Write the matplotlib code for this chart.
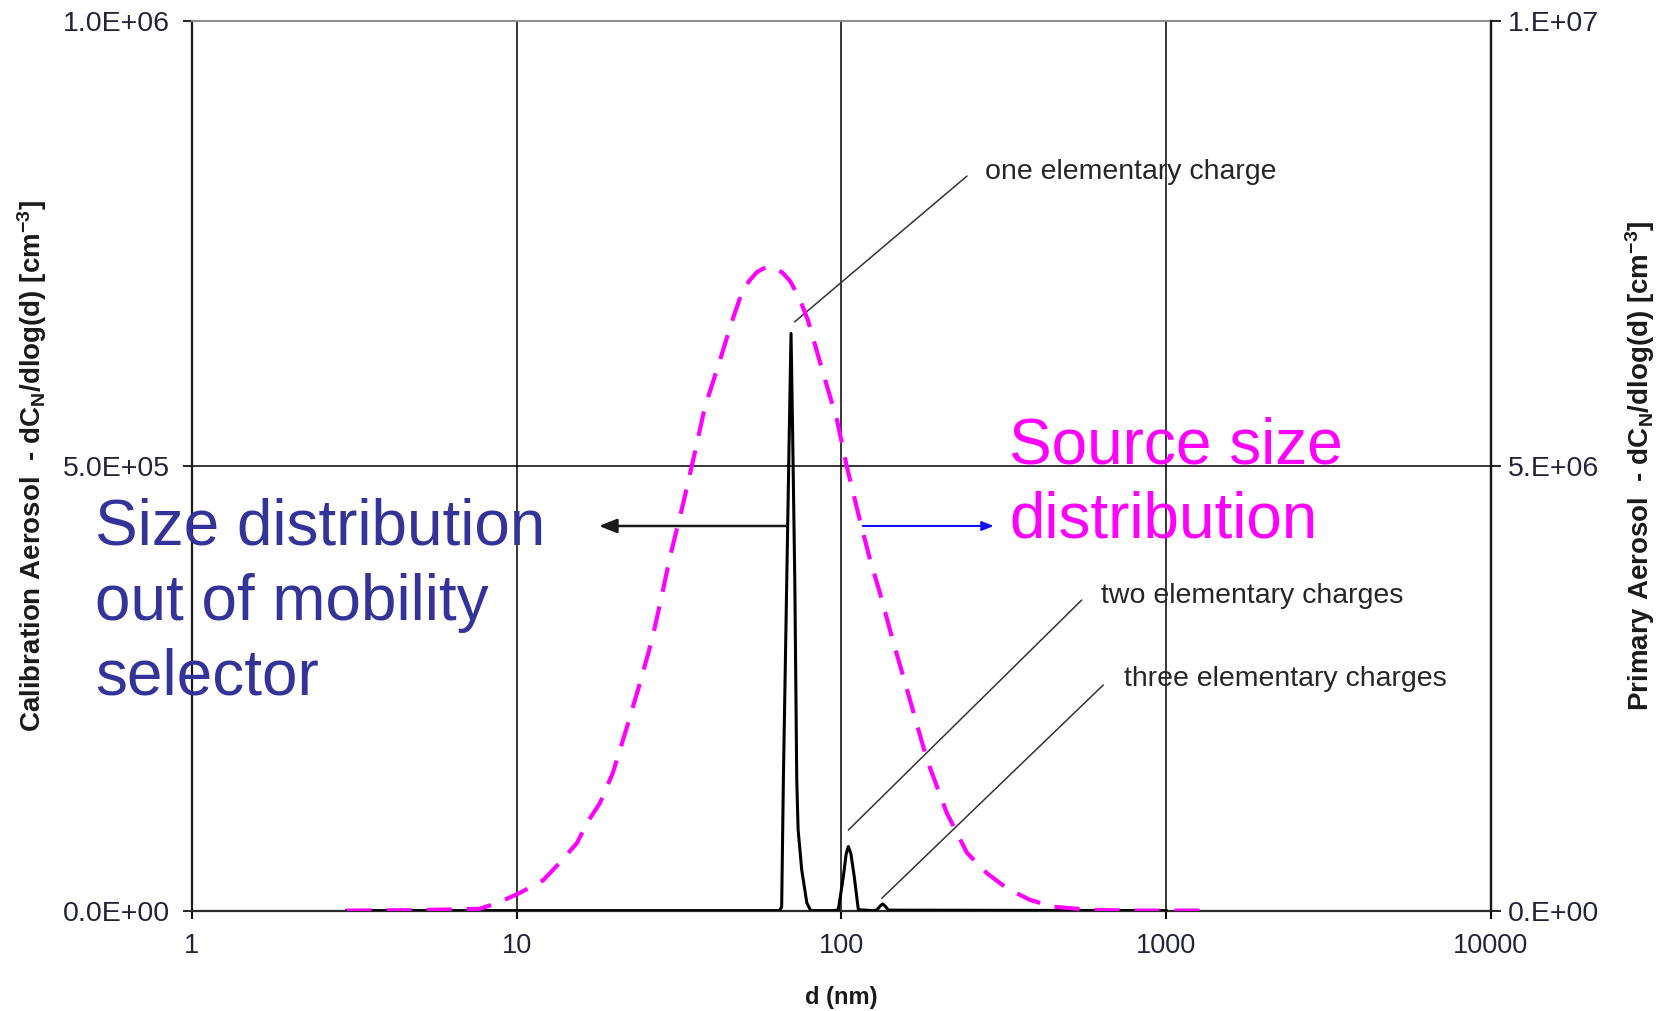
import matplotlib
matplotlib.use("Agg")
import matplotlib.pyplot as plt
from matplotlib.ticker import FixedLocator, NullLocator

plt.rcParams['font.family'] = ['Liberation Sans', 'DejaVu Sans']
plt.rcParams['mathtext.fontset'] = 'custom'
plt.rcParams['mathtext.rm'] = 'Liberation Sans'
plt.rcParams['mathtext.bf'] = 'Liberation Sans:bold'
plt.rcParams['mathtext.it'] = 'Liberation Sans:italic'

# ---- data -------------------------------------------------------------
# Primary (source) aerosol size distribution, right axis [cm^-3]
src_d = [3.0, 5.0, 7.7, 8.8, 10.25, 12.07, 13.6, 15.35, 16.5, 18.07, 19.8,
         21.9, 24.0, 26.1, 27.7, 29.7, 32.6, 35.4, 38.0, 42.3, 46.0, 49.4,
         52.0, 55.0, 57.5, 60.3, 63.0, 66.0, 69.5, 74.0, 78.9, 87.8, 96.9,
         104.0, 114.0, 122.5, 131.5, 144.0, 162.6, 183.4, 211.0, 243.6,
         280.7, 323.6, 381.0, 449.0, 583.0, 800.0, 1394.0]
src_v = [0.0, 5e3, 2e4, 9e4, 2.0e5, 3.4e5, 5.4e5, 7.6e5, 9.9e5, 1.21e6,
         1.55e6, 2.07e6, 2.56e6, 3.04e6, 3.46e6, 3.98e6, 4.58e6, 5.15e6,
         5.66e6, 6.19e6, 6.62e6, 6.95e6, 7.08e6, 7.18e6, 7.22e6, 7.24e6,
         7.22e6, 7.17e6, 7.08e6, 6.90e6, 6.64e6, 6.05e6, 5.52e6, 4.99e6,
         4.39e6, 3.95e6, 3.57e6, 3.04e6, 2.37e6, 1.70e6, 1.10e6, 6.5e5,
         4.2e5, 2.5e5, 1.2e5, 4.4e4, 8e3, 0.0, 0.0]

# Calibration aerosol leaving the mobility selector, left axis [cm^-3]
cal_d = [3.0, 60.0, 64.5, 65.5, 66.3, 67.9, 69.0, 70.0, 70.8, 71.9, 72.9,
         73.6, 75.5, 78.3, 80.5, 95.0, 97.9, 101.4, 103.5, 105.1, 107.0,
         109.6, 112.8, 125.0, 128.5, 131.5, 134.0, 136.5, 139.6, 1000.0]
cal_v = [0.0, 0.0, 0.0, 4e3, 1.47e5, 3.7e5, 5.2e5, 6.49e5, 5.37e5, 3.7e5,
         1.47e5, 9.1e4, 4.6e4, 8.6e3, 0.0, 0.0, 1e3, 3.8e4, 6.4e4, 7.2e4,
         6.4e4, 3.8e4, 1e3, 0.0, 5e2, 5e3, 7.4e3, 5e3, 5e2, 0.0]

x_ticks = [1, 10, 100, 1000, 10000]
x_tick_labels = ['1', '10', '100', '1000', '10000']
left_ticks = [0.0, 5.0e5, 1.0e6]
left_tick_labels = ['0.0E+00', '5.0E+05', '1.0E+06']
right_ticks = [0.0, 5.0e6, 1.0e7]
right_tick_labels = ['0.E+00', '5.E+06', '1.E+07']

# charge-state labels: (text, point on curve [d, value], line start / text in axes fraction)
charge_notes = [
    ('one elementary charge', (71.8, 6.62e5), (0.5967, 0.826), (0.6105, 0.830)),
    ('two elementary charges', (105.1, 9.06e4), (0.685, 0.3492), (0.7001, 0.3532)),
    ('three elementary charges', (133.2, 1.38e4), (0.7016, 0.2537), (0.7172, 0.2599)),
]

# ---- figure -------------------------------------------------------------
fig = plt.figure(figsize=(16.70, 10.11), dpi=100)
ax1 = fig.add_axes([0.11479, 0.09931, 0.77802, 0.87962])
ax1.set_xscale('log')
ax1.set_xlim(1, 10000)
ax1.set_ylim(0, 1.0e6)

tick_color = '#22223a'
ax1.xaxis.set_major_locator(FixedLocator(x_ticks))
ax1.xaxis.set_minor_locator(NullLocator())
ax1.set_xticklabels(x_tick_labels)
ax1.set_yticks(left_ticks)
ax1.set_yticklabels(left_tick_labels)
ax1.tick_params(axis='x', direction='out', length=6, width=1.5, pad=10,
                labelsize=19.5, colors='black', labelcolor=tick_color)
ax1.tick_params(axis='y', direction='out', length=6.5, width=1.2, pad=9,
                labelsize=20.5, colors='black', labelcolor=tick_color)

# grid
for xv in x_ticks[1:-1]:
    ax1.axvline(xv, color='black', lw=1.1, zorder=1)
ax1.axhline(left_ticks[1], color='black', lw=1.1, zorder=1)

for side, sp in ax1.spines.items():
    sp.set_linewidth(1.6)
    sp.set_color('#1a1a1a')
ax1.spines['top'].set_color('#8a8a8a')
ax1.spines['top'].set_linewidth(1.4)
ax1.spines['bottom'].set_color('#2a2a2a')

ax1.plot(cal_d, cal_v, color='black', lw=2.2, zorder=3, solid_joinstyle='round')

ax2 = ax1.twinx()
ax2.set_ylim(0, 1.0e7)
ax2.set_yticks(right_ticks)
ax2.set_yticklabels(right_tick_labels)
ax2.tick_params(axis='y', direction='out', length=7, width=1.2, pad=5,
                labelsize=20.5, colors='black', labelcolor=tick_color)
for sp in ax2.spines.values():
    sp.set_visible(False)
ax2.spines['right'].set_visible(True)
ax2.spines['right'].set_linewidth(1.6)
ax2.spines['right'].set_color('#1a1a1a')

ax2.plot(src_d, src_v, color='#ff00ff', lw=3.0, linestyle=(0, (6.0, 3.6)),
         zorder=3, dash_capstyle='butt')

# charge-state annotations
for txt, xy, start, tpos in charge_notes:
    ax1.annotate('', xy=xy, xycoords='data', xytext=start,
                 textcoords='axes fraction',
                 arrowprops=dict(arrowstyle='-', color='#333333', lw=1.1,
                                 shrinkA=0, shrinkB=0), zorder=4)
    ax1.text(tpos[0], tpos[1], txt, transform=ax1.transAxes, ha='left',
             va='center', fontsize=20.5, color='#262626', zorder=4)

# direction arrows pointing to the axis each curve belongs to
ax1.annotate('', xy=(17.95, 4.325e5), xytext=(67.6, 4.325e5),
             arrowprops=dict(arrowstyle='-|>,head_length=0.6,head_width=0.24',
                             mutation_scale=18, color='#1a1a1a', lw=1.8,
                             shrinkA=0, shrinkB=0), zorder=4)
ax1.annotate('', xy=(294.6, 4.325e5), xytext=(116.4, 4.325e5),
             arrowprops=dict(arrowstyle='-|>,head_length=0.5,head_width=0.2',
                             mutation_scale=14, color='#1010ff', lw=1.5,
                             shrinkA=0, shrinkB=0), zorder=4)

# headline text
blue = '#333399'
for txt, yb in [('Size distribution', 0.4619), ('out of mobility', 0.3867),
                ('selector', 0.3126)]:
    fig.text(0.0569, yb, txt, fontsize=46, color=blue, ha='left', va='baseline')
for txt, yb in [('Source size', 0.5420), ('distribution', 0.4679)]:
    fig.text(0.6042, yb, txt, fontsize=46, color='#ff00ff', ha='left', va='baseline')

# axis titles
fig.text(0.0192, 0.5391,
         r'Calibration Aerosol  - dC$_{\mathbf{N}}$/dlog(d) [cm$^{\mathbf{-3}}$]',
         rotation=90, ha='center', va='center', fontsize=20, fontweight='bold',
         color='#1a1a1a')
fig.text(0.9820, 0.5391,
         r'Primary Aerosol  - dC$_{\mathbf{N}}$/dlog(d) [cm$^{\mathbf{-3}}$]',
         rotation=90, ha='center', va='center', fontsize=20, fontweight='bold',
         color='#1a1a1a')
fig.text(0.5036, 0.0129, 'd (nm)', ha='center', va='center', fontsize=17,
         fontweight='bold', color='#1a1a1a')

fig.savefig('out.png', dpi=100, facecolor='white')
